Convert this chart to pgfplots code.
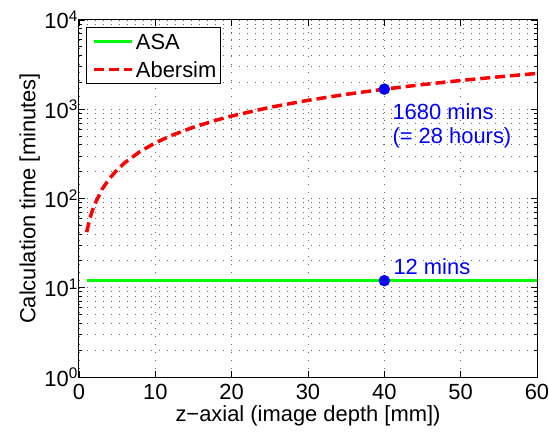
\documentclass[border=0pt]{standalone}
\usepackage{fontspec}
\setmainfont{Liberation Sans}
\usepackage{pgfplots}
\pgfplotsset{compat=1.18}
\definecolor{mgreen}{RGB}{0,255,0}
\definecolor{mred}{RGB}{255,0,0}
\definecolor{mblue}{RGB}{0,0,255}
\newcommand{\bigf}{\fontsize{22}{26}\selectfont}
\begin{document}
\begin{tikzpicture}[font=\bigf]
\begin{axis}[
  scale only axis,
  width=458bp, height=357bp,
  ymode=log,
  xmin=0, xmax=60, ymin=1, ymax=10000,
  xtick={0,10,20,30,40,50,60},
  xticklabels={0,10,20,30,40,50,60},
  ytick={1,10,100,1000,10000},
  yticklabels={10\textsuperscript{0},10\textsuperscript{1},10\textsuperscript{2},10\textsuperscript{3},10\textsuperscript{4}},
  tick label style={font=\bigf},
  yticklabel style={inner sep=1bp},
  xticklabel style={inner sep=0pt, yshift=-7bp},
  label style={font=\bigf},
  minor x tick num=0,
  xmajorgrids=true,
  ymajorgrids=true,
  yminorgrids=true,
  major grid style={black!60, line width=0.8bp, dash pattern=on 1bp off 7bp},
  minor grid style={black!60, line width=0.8bp, dash pattern=on 1bp off 7bp},
  axis line style={black, line width=1bp},
  every tick/.style={black, line width=0.8bp},
  major tick length=6bp,
  minor tick length=3bp,
  xlabel={z−axial (image depth [mm])},
  ylabel={Calculation time [minutes]},
  xlabel style={inner sep=0pt, yshift=-6bp},
  legend style={at={(0,1)}, anchor=north west, xshift=7bp, yshift=-7bp,
    draw=black, line width=1bp, fill=white, inner sep=2bp, font=\bigf,
    nodes={inner xsep=2bp, inner ysep=0pt, text height=20bp, text depth=4bp, font=\bigf},
    row sep=4bp},
  legend cell align=left,
  legend image code/.code={\path (0bp,0bp); \draw[#1] (4bp,0bp) -- (42bp,0bp);},
]
\addplot[mgreen, line width=3.5bp] coordinates {(1,12) (60,12)};
\addlegendentry{ASA}
\addplot[mred, line width=3.5bp, dash pattern=on 10bp off 5bp] coordinates {
(1,42) (1.5,63) (2,84) (3,126) (4,168) (5,210) (6,252) (8,336) (10,420) (12,504)
(15,630) (18,756) (20,840) (25,1050) (30,1260) (35,1470) (40,1680) (45,1890)
(50,2100) (55,2310) (60,2520)};
\addlegendentry{Abersim}
\addplot[only marks, mark=*, mark size=5.5bp, mblue, forget plot] coordinates {(40,1680) (40,12)};
\node[anchor=base west, text=mblue, inner sep=0pt, font=\bigf] at ([xshift=8bp,yshift=-30bp]axis cs:40,1680) {1680 mins};
\node[anchor=base west, text=mblue, inner sep=0pt, font=\bigf] at ([xshift=8bp,yshift=-54bp]axis cs:40,1680) {(= 28 hours)};
\node[anchor=base west, text=mblue, inner sep=0pt, font=\bigf] at ([xshift=9bp,yshift=6bp]axis cs:40,12) {12 mins};
\end{axis}
\pgfresetboundingbox
\path[use as bounding box] ([xshift=-79bp,yshift=-57bp]current axis.south west) rectangle ([xshift=12bp,yshift=20bp]current axis.north east);
\end{tikzpicture}
\end{document}
